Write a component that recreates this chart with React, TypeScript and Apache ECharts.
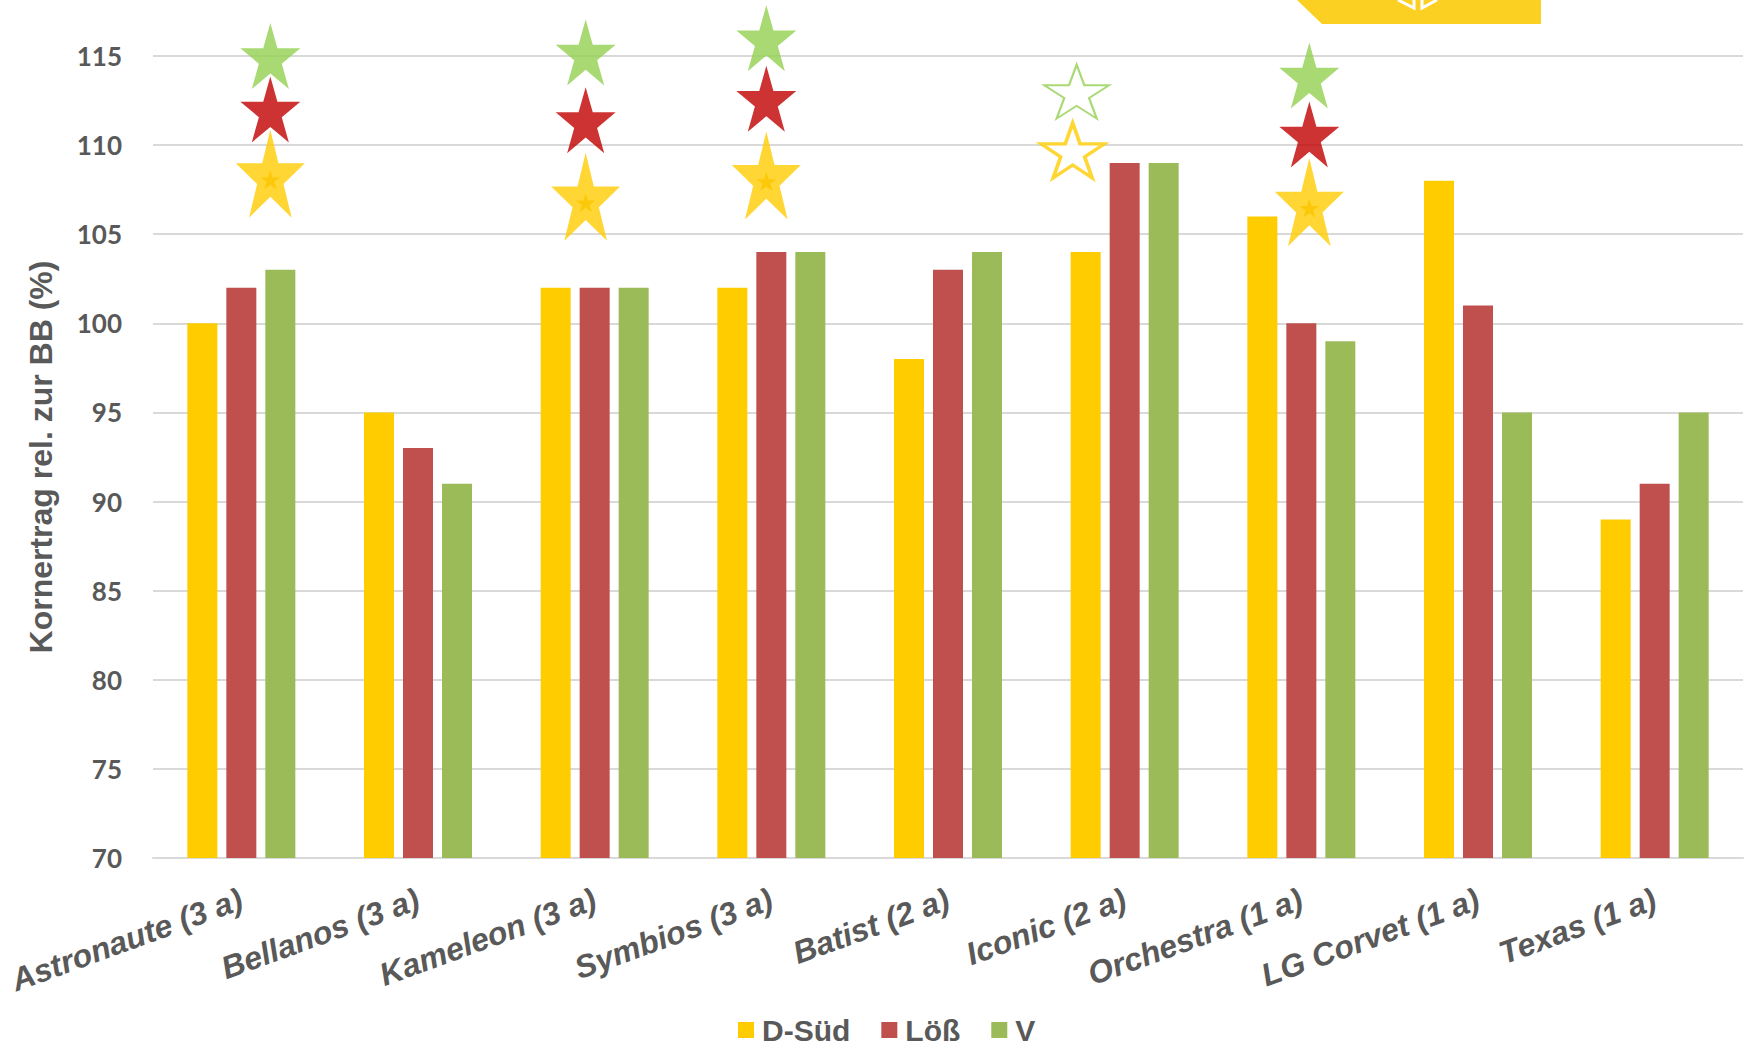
import React, { useEffect, useRef } from "react";
import * as echarts from "echarts";

const categories = [
  "Astronaute (3 a)",
  "Bellanos (3 a)",
  "Kameleon (3 a)",
  "Symbios (3 a)",
  "Batist (2 a)",
  "Iconic (2 a)",
  "Orchestra (1 a)",
  "LG Corvet (1 a)",
  "Texas (1 a)",
];

const seriesNames = ["D-Süd", "Löß", "V"];
const dSued = [100, 95, 102, 102, 98, 104, 106, 108, 89];
const loess = [102, 93, 102, 104, 103, 109, 100, 101, 91];
const vValues = [103, 91, 102, 104, 104, 109, 99, 95, 95];

const yMin = 70;
const yMax = 115;
const yStep = 5;

// significance stars: [category, value]
const greenStars: [string, number][] = [
  ["Astronaute (3 a)", 115.0],
  ["Kameleon (3 a)", 115.2],
  ["Symbios (3 a)", 116.0],
  ["Orchestra (1 a)", 113.9],
];
const redStars: [string, number][] = [
  ["Astronaute (3 a)", 112.0],
  ["Kameleon (3 a)", 111.4],
  ["Symbios (3 a)", 112.6],
  ["Orchestra (1 a)", 110.6],
];
const yellowStars: [string, number][] = [
  ["Astronaute (3 a)", 108.4],
  ["Kameleon (3 a)", 107.1],
  ["Symbios (3 a)", 108.3],
  ["Orchestra (1 a)", 106.8],
];
const greenOutlineStars: [string, number][] = [["Iconic (2 a)", 113.0]];
const yellowOutlineStars: [string, number][] = [["Iconic (2 a)", 109.7]];

// horizontal placement of the star markers relative to the category centre (px)
const starShift: Record<string, number> = {
  "Astronaute (3 a)": 29,
  "Kameleon (3 a)": -9,
  "Symbios (3 a)": -5,
  "Iconic (2 a)": -50,
  "Orchestra (1 a)": 8,
};

const STAR =
  "path://M0,-100L22.45,-30.9L95.1,-30.9L36.3,11.8L58.8,80.9L0,38.2L-58.8,80.9L-36.3,11.8L-95.1,-30.9L-22.45,-30.9Z";

const TEXT = "#595959";
const FONT = "'Liberation Sans', Arial, sans-serif";

function starSeries(
  data: [string, number][],
  size: [number, number],
  item: any,
  dy = 0,
  dxExtra = 0,
  z = 5
) {
  return {
    type: "scatter",
    clip: false,
    silent: true,
    z,
    symbol: STAR,
    symbolSize: size,
    itemStyle: item,
    data: data.map(([c, v]) => ({
      value: [c, v],
      symbolOffset: [(starShift[c] || 0) + dxExtra, dy],
    })),
  };
}

export default function App() {
  const ref = useRef<HTMLDivElement>(null);

  useEffect(() => {
    if (!ref.current) return;
    const chart = echarts.init(ref.current, undefined, { renderer: "svg" });
    const barColors = ["#FFCC00", "#C0504D", "#9BBB59"];
    const values = [dSued, loess, vValues];

    chart.setOption({
      animation: false,
      backgroundColor: "#ffffff",
      grid: {
        left: 153,
        right: 7,
        top: 56,
        bottom: 191,
        containLabel: false,
        outerBoundsMode: "none",
      },
      legend: {
        data: seriesNames,
        left: 738,
        top: 1015,
        padding: 0,
        itemWidth: 16,
        itemHeight: 16,
        itemGap: 31,
        icon: "rect",
        textStyle: {
          color: TEXT,
          fontSize: 30,
          fontWeight: "bold",
          fontFamily: FONT,
          lineHeight: 26,
          padding: [0, 0, 0, 3],
        },
      },
      xAxis: {
        type: "category",
        data: categories,
        axisTick: { show: false },
        axisLine: { lineStyle: { color: "#D9D9D9", width: 2 } },
        axisLabel: {
          rotate: 20,
          margin: 40,
          color: TEXT,
          fontSize: 32,
          fontWeight: "bold",
          fontStyle: "italic",
          fontFamily: FONT,
          interval: 0,
        },
      },
      yAxis: {
        type: "value",
        min: yMin,
        max: yMax,
        interval: yStep,
        name: "Kornertrag rel. zur BB (%)",
        nameLocation: "middle",
        nameRotate: 90,
        nameGap: 96,
        nameTextStyle: {
          color: TEXT,
          fontSize: 32,
          fontWeight: "bold",
          fontFamily: FONT,
        },
        axisLine: { show: false },
        axisTick: { show: false },
        splitLine: { lineStyle: { color: "#D9D9D9", width: 2 } },
        axisLabel: {
          margin: 31,
          color: TEXT,
          fontSize: 26,
          fontWeight: "bold",
          fontFamily: "Lato, 'DejaVu Sans', sans-serif",
        },
      },
      series: [
        ...seriesNames.map((n, i) => ({
          name: n,
          type: "bar",
          data: values[i],
          barWidth: 30,
          barGap: "30%",
          itemStyle: { color: barColors[i] },
          z: 2,
        })),
        starSeries(greenStars, [60, 66], { color: "#92D050" }, 0, 0, 5),
        starSeries(redStars, [60, 66], { color: "#C00000" }, 0, 0, 6),
        starSeries(yellowStars, [69, 88], { color: "#FFCC00" }, 0, 0, 7),
        starSeries(yellowStars, [20, 19], { color: "#FBC400" }, 6, 0, 8),
        starSeries(
          greenOutlineStars,
          [65, 54],
          { color: "#ffffff", borderColor: "#92D050", borderWidth: 2 },
          0,
          2,
          7
        ),
        starSeries(
          yellowOutlineStars,
          [63, 55],
          { color: "#ffffff", borderColor: "#FFCC00", borderWidth: 3.5 },
          0,
          -2,
          7
        ),
      ],
      graphic: [
        {
          type: "polygon",
          z: 100,
          shape: {
            points: [
              [1297, 0],
              [1541, 0],
              [1541, 24],
              [1322, 24],
            ],
          },
          style: { fill: "#FCD022" },
        },
        {
          type: "polyline",
          z: 101,
          shape: {
            points: [
              [1398, 0],
              [1414, 8],
              [1414, 0],
            ],
          },
          style: { stroke: "#ffffff", lineWidth: 3, fill: null },
        },
        {
          type: "polyline",
          z: 101,
          shape: {
            points: [
              [1422, 0],
              [1422, 8],
              [1437, 0],
            ],
          },
          style: { stroke: "#ffffff", lineWidth: 3, fill: null },
        },
      ],
    });

    return () => chart.dispose();
  }, []);

  return <div ref={ref} style={{ width: 1750, height: 1049, position: "absolute", left: 0, top: 0 }} />;
}
